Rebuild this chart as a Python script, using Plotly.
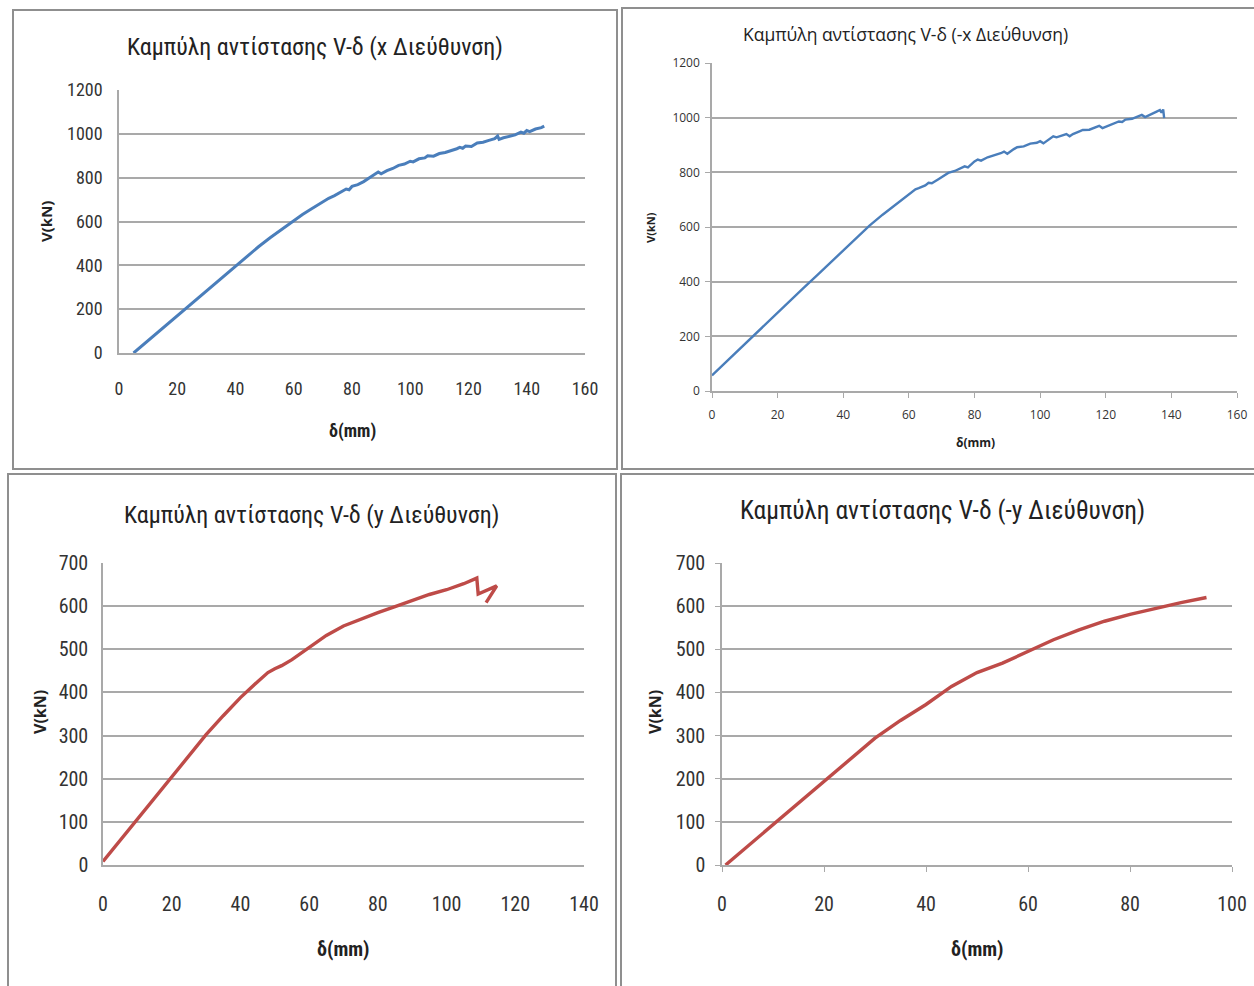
import plotly.graph_objects as go

# Resistance curves V-δ for the four loading directions
delta_x = [5, 8, 12, 16, 20, 24, 28, 32, 36, 40, 44, 48, 52, 56, 60, 63, 66, 69, 72, 74, 76, 78, 79,
           80, 82, 84, 86, 88, 89, 90, 92, 94, 96, 98, 100, 101, 103, 105, 106, 108, 110, 112, 114,
           116, 117, 118, 119, 121, 123, 125, 127, 129, 130, 130.5, 132, 134, 136, 138, 139, 140,
           141, 143, 145, 146]
v_x = [0, 34, 80, 126, 171, 217, 262, 308, 354, 398, 443, 486, 527, 566, 604, 632, 657, 683, 706,
       718, 735, 748, 745, 760, 768, 782, 800, 818, 826, 818, 832, 842, 856, 862, 875, 872, 886, 890,
       900, 898, 910, 915, 922, 932, 938, 934, 944, 942, 958, 962, 970, 978, 990, 975, 982, 988, 995,
       1008, 1003, 1015, 1010, 1022, 1028, 1035]

delta_mx = [0, 4, 8, 12, 16, 20, 24, 28, 32, 36, 40, 44, 48, 52, 56, 60, 62, 63, 65, 66, 67, 69, 71,
            72, 74, 76, 77, 78, 80, 81, 82, 84, 86, 88, 89, 90, 92, 93, 95, 97, 99, 100, 101, 103,
            104, 105, 107, 108, 109, 110, 112, 113, 115, 117, 118, 119, 121, 123, 124, 125, 126, 128,
            130, 131, 132, 134, 135.5, 136.5, 137, 137.5, 137.8]
v_mx = [57, 103, 150, 197, 243, 288, 333, 378, 423, 468, 513, 560, 605, 645, 683, 718, 738, 742, 752,
        762, 760, 775, 790, 798, 805, 818, 822, 818, 840, 847, 843, 855, 862, 870, 876, 868, 885, 892,
        895, 905, 908, 914, 906, 922, 932, 928, 936, 940, 932, 940, 950, 955, 956, 965, 970, 962, 972,
        982, 986, 984, 993, 996, 1005, 1010, 1002, 1012, 1022, 1028, 1018, 1030, 998]

delta_y = [0, 5, 10, 15, 20, 25, 30, 35, 40, 45, 48, 50, 52, 55, 60, 65, 70, 75, 80, 85, 90, 95, 100,
           105, 108.8, 109.2, 114.6, 111.5]
v_y = [8, 57, 106, 157, 206, 255, 302, 346, 388, 425, 446, 455, 462, 476, 505, 532, 554, 570, 585,
       599, 614, 627, 638, 652, 665, 628, 647, 608]

delta_my = [0.7, 5, 10, 15, 20, 25, 30, 35, 40, 45, 50, 55, 60, 65, 70, 75, 80, 85, 90, 95]
v_my = [0, 43, 93, 143, 194, 244, 294, 335, 372, 414, 446, 468, 496, 522, 545, 565, 581, 595, 608, 620]

titles = ["Καμπύλη αντίστασης V-δ (x Διεύθυνση)",
          "Καμπύλη αντίστασης V-δ (-x Διεύθυνση)",
          "Καμπύλη αντίστασης V-δ (y Διεύθυνση)",
          "Καμπύλη αντίστασης V-δ (-y Διεύθυνση)"]

W, H = 1254, 986
BLUE = "#4a7ebb"
RED = "#be4b48"
GRID = "#a9a9a9"
NARROW = "Liberation Sans Narrow, Roboto Condensed, Open Sans, sans-serif"
SANS = "Open Sans, Noto Sans, sans-serif"


def px_x(a, b):
    return [a / W, b / W]


def px_y(top, bottom):
    return [1 - bottom / H, 1 - top / H]


fig = go.Figure()

panels = [
    dict(x=delta_x, y=v_x, color=BLUE, width=3.0, dx=px_x(119, 585), dy=px_y(90, 353),
         xr=[0, 160], xd=20, yr=[0, 1200], yd=200, font=NARROW, fs=18, ticks=False,
         xstand=19, ystand=11),
    dict(x=delta_mx, y=v_mx, color=BLUE, width=2.4, dx=px_x(712, 1237), dy=px_y(63, 391),
         xr=[0, 160], xd=20, yr=[0, 1200], yd=200, font=SANS, fs=12, ticks=True,
         xstand=7, ystand=3),
    dict(x=delta_y, y=v_y, color=RED, width=3.4, dx=px_x(103, 584), dy=px_y(563, 865),
         xr=[0, 140], xd=20, yr=[0, 700], yd=100, font=NARROW, fs=20, ticks=False,
         xstand=20, ystand=9),
    dict(x=delta_my, y=v_my, color=RED, width=3.4, dx=px_x(722, 1232), dy=px_y(563, 865),
         xr=[0, 100], xd=20, yr=[0, 700], yd=100, font=NARROW, fs=20, ticks=True,
         xstand=15, ystand=6),
]

for i, p in enumerate(panels, start=1):
    sfx = "" if i == 1 else str(i)
    fig.add_trace(go.Scatter(x=p["x"], y=p["y"], mode="lines",
                             line=dict(color=p["color"], width=p["width"]),
                             xaxis="x" + sfx, yaxis="y" + sfx, showlegend=False))
    tk = dict(ticks="outside", ticklen=5, tickcolor=GRID, tickwidth=1.2) if p["ticks"] else dict(ticks="")
    fig.layout["xaxis" + sfx] = dict(
        domain=p["dx"], anchor="y" + sfx, range=p["xr"], dtick=p["xd"], tick0=0,
        showgrid=False, zeroline=False, showline=True, linecolor=GRID, linewidth=1.5,
        tickfont=dict(family=p["font"], size=p["fs"], color="#333333"),
        ticklabelstandoff=p["xstand"], automargin=False, fixedrange=True, **tk)
    fig.layout["yaxis" + sfx] = dict(
        domain=p["dy"], anchor="x" + sfx, range=p["yr"], dtick=p["yd"], tick0=0,
        showgrid=True, gridcolor=GRID, gridwidth=1.5, zeroline=False,
        showline=True, linecolor=GRID, linewidth=1.5,
        tickfont=dict(family=p["font"], size=p["fs"], color="#333333"),
        ticklabelstandoff=p["ystand"], automargin=False, fixedrange=True, **tk)

# panel frames
frames = [(13, 10, 617, 469), (622, 8, 1256, 469), (8, 474, 616, 990), (621, 474, 1256, 990)]
for x0, y0, x1, y1 in frames:
    fig.add_shape(type="rect", xref="paper", yref="paper",
                  x0=x0 / W, x1=x1 / W, y0=1 - y1 / H, y1=1 - y0 / H,
                  line=dict(color="#8f8f8f", width=2), layer="below")

# titles and axis labels
texts = [
    (315, 47, titles[0], NARROW, 24, False, 0),
    (905, 34, titles[1], SANS, 17.5, False, 0),
    (311, 515, titles[2], NARROW, 24, False, 0),
    (943, 510, titles[3], NARROW, 25.5, False, 0),
    (352, 431, "δ(mm)", NARROW, 18, True, 0),
    (975, 442, "δ(mm)", SANS, 12, True, 0),
    (343, 949, "δ(mm)", NARROW, 20, True, 0),
    (977, 949, "δ(mm)", NARROW, 20, True, 0),
    (46, 222, "V(kN)", SANS, 15, True, -90),
    (650, 228, "V(kN)", SANS, 11, True, -90),
    (40, 712, "V(kN)", SANS, 16, True, -90),
    (655, 712, "V(kN)", SANS, 16, True, -90),
]
for x, y, t, fam, size, bold, ang in texts:
    fig.add_annotation(xref="paper", yref="paper", x=x / W, y=1 - y / H,
                       text=f"<b>{t}</b>" if bold else t, showarrow=False,
                       textangle=ang, xanchor="center", yanchor="middle",
                       font=dict(family=fam, size=size, color="#222222"))

fig.update_layout(width=W, height=H, margin=dict(l=0, r=0, t=0, b=0, autoexpand=False),
                  paper_bgcolor="white", plot_bgcolor="white")

fig.write_html("out.html")
